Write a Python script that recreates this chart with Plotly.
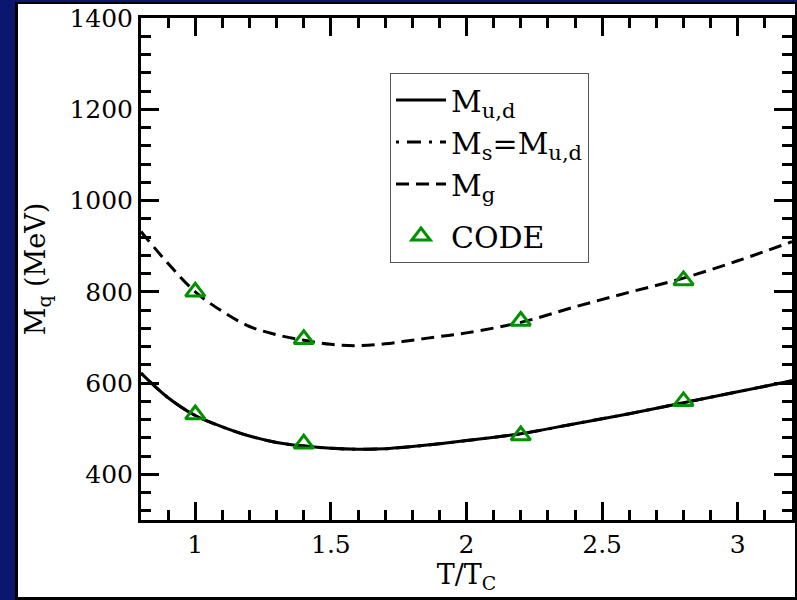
import plotly.graph_objects as go

# Temperature in units of T_C and the quark / gluon quasi-particle masses (MeV)
t_ratio = [0.8, 0.9, 1.0, 1.1, 1.2, 1.3, 1.4, 1.5, 1.6, 1.7, 1.8, 1.9, 2.0, 2.2, 2.4, 2.6, 2.8, 3.0, 3.2]
m_ud = [622, 568, 529, 504, 484, 470, 462, 457, 455, 456, 461, 467, 474, 489, 511, 533, 557, 581, 605]
m_s = [622, 568, 529, 504, 484, 470, 462, 457, 455, 456, 461, 467, 474, 489, 511, 533, 557, 581, 605]
m_g = [932, 862, 800, 757, 724, 706, 694, 685, 682, 686, 694, 702, 710, 733, 767, 799, 830, 868, 910]

# CODE points (gluon branch, then light-quark branch)
code_t = [1.0, 1.4, 2.2, 2.8, 1.0, 1.4, 2.2, 2.8]
code_m = [800, 696, 736, 825, 531, 467, 485, 560]

x_ticks = [1, 1.5, 2, 2.5, 3]
x_ticktext = ["1", "1.5", "2", "2.5", "3"]
y_ticks = [400, 600, 800, 1000, 1200, 1400]

W, H = 797, 600
ML, MR, MT, MB = 141, 5, 18, 80
PW, PH = W - ML - MR, H - MT - MB


def px_x(px):
    return (px - ML) / PW


def px_y(py):
    return (H - MB - py) / PH


SERIF = "DejaVu Serif"
GREEN = "rgb(0,145,0)"

fig = go.Figure()
fig.add_trace(go.Scatter(
    x=t_ratio, y=m_ud, mode="lines", name="M<sub>u,d</sub>", legendgroup="curves",
    line=dict(color="black", width=3, shape="spline"),
))
fig.add_trace(go.Scatter(
    x=t_ratio, y=m_s, mode="lines", name="M<sub>s</sub>=M<sub>u,d</sub>", legendgroup="curves",
    line=dict(color="black", width=3, dash="3px,8px,14px,8px", shape="spline"),
))
fig.add_trace(go.Scatter(
    x=t_ratio, y=m_g, mode="lines", name="M<sub>g</sub>", legendgroup="curves",
    line=dict(color="black", width=3, dash="13px,7px", shape="spline"),
))
fig.add_trace(go.Scatter(
    x=code_t, y=code_m, mode="markers", name="CODE", legendgroup="code",
    marker=dict(symbol="triangle-up-open", size=17, color=GREEN,
                line=dict(color=GREEN, width=3)),
))

axis_common = dict(
    showline=True, linecolor="black", linewidth=3, mirror="allticks",
    ticks="inside", ticklen=18, tickwidth=3, tickcolor="black",
    showgrid=False, zeroline=False,
    tickfont=dict(family=SERIF, size=25, color="black"),
)

fig.update_xaxes(
    range=[0.8, 3.2], tickvals=x_ticks, ticktext=x_ticktext,
    minor=dict(ticks="inside", ticklen=10, tickwidth=3, tickcolor="black", dtick=0.1, tick0=0.8),
    title=dict(text="T/T<sub>C</sub>", font=dict(family=SERIF, size=27, color="black"), standoff=4),
    **axis_common,
)
fig.update_yaxes(
    range=[300, 1400], tickvals=y_ticks,
    minor=dict(ticks="inside", ticklen=10, tickwidth=3, tickcolor="black", dtick=40, tick0=400),
    title=dict(text="M<sub>q</sub> (MeV)", font=dict(family=SERIF, size=27, color="black"), standoff=16),
    **axis_common,
)

# slide backdrop: navy page with a black-framed white panel
shapes = [
    dict(type="rect", xref="paper", yref="paper", layer="below",
         x0=px_x(15), x1=px_x(797), y0=px_y(600), y1=px_y(2),
         fillcolor="black", line=dict(width=0)),
    dict(type="rect", xref="paper", yref="paper", layer="below",
         x0=px_x(18), x1=px_x(795), y0=px_y(597), y1=px_y(4),
         fillcolor="white", line=dict(width=0)),
]

fig.update_layout(
    width=W, height=H,
    margin=dict(l=ML, r=MR, t=MT, b=MB, autoexpand=False),
    paper_bgcolor="#0b166e", plot_bgcolor="white",
    font=dict(family=SERIF, color="black"),
    shapes=shapes,
    showlegend=True,
    legend=dict(
        x=px_x(390), y=px_y(73), xanchor="left", yanchor="top",
        bgcolor="white", bordercolor="#555555", borderwidth=1,
        font=dict(family=SERIF, size=30, color="black"),
        itemwidth=50, tracegroupgap=10,
    ),
)

fig.write_html("out.html")
